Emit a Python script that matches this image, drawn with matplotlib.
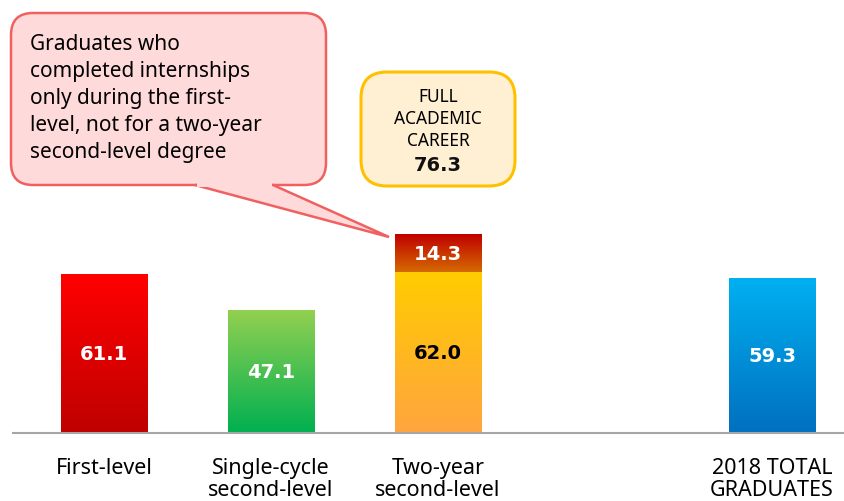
import numpy as np
import matplotlib
matplotlib.use('Agg')
import matplotlib.pyplot as plt
from matplotlib.colors import LinearSegmentedColormap
from matplotlib.patches import FancyBboxPatch, Polygon

plt.rcParams['font.family'] = ['Noto Sans', 'DejaVu Sans']

# data
categories = ['First-level', 'Single-cycle\nsecond-level', 'Two-year\nsecond-level', '2018 TOTAL\nGRADUATES']
positions = [0, 1, 2, 4]
base_values = [61.1, 47.1, 62.0, 59.3]
extra_values = [0, 0, 14.3, 0]  # only the two-year bar has a stacked part
total_full_career = 76.3

# top / bottom colours of each bar gradient
base_grad = [('#ff0000', '#bf0000'), ('#92d050', '#00b050'),
             ('#ffcc00', '#ffa53f'), ('#00b0f0', '#0070c0')]
extra_grad = ('#c00000', '#d46a00')
label_colors = ['white', 'white', 'black', 'white']

W, H = 845, 502
fig = plt.figure(figsize=(W / 100, H / 100), dpi=100)
ax = fig.add_axes([13 / W, (H - 434) / H, 832 / W, 434 / H])
width = 0.515
num_font = dict(family='DejaVu Sans', fontsize=14, fontweight='bold')


def grad_bar(x, y0, y1, top, bottom):
    cmap = LinearSegmentedColormap.from_list('g', [bottom, top])
    img = np.linspace(0, 1, 100).reshape(-1, 1)
    ax.imshow(img, cmap=cmap, origin='lower', aspect='auto',
              extent=(x - width / 2, x + width / 2, y0, y1), zorder=2)


for x, v, e, g, lc in zip(positions, base_values, extra_values, base_grad, label_colors):
    grad_bar(x, 0, v, g[0], g[1])
    ax.text(x, v / 2, f'{v:.1f}', ha='center', va='center', color=lc, zorder=4, **num_font)
    if e:
        grad_bar(x, v, v + e, extra_grad[0], extra_grad[1])
        ax.text(x, v + e / 2, f'{e:.1f}', ha='center', va='center', color='white',
                zorder=4, **num_font)

ax.set_xlim(-0.545, 4.437)
ax.set_ylim(0, 167)
ax.set_xticks(positions)
ax.set_xticklabels(categories, fontsize=15.5, linespacing=1.1)
ax.tick_params(axis='x', length=0, pad=17)
ax.set_yticks([])
for s in ['top', 'right', 'left']:
    ax.spines[s].set_visible(False)
ax.spines['bottom'].set_color('#a6a6a6')
ax.spines['bottom'].set_linewidth(1.5)

# overlay in pixel coordinates for the callouts
ov = fig.add_axes([0, 0, 1, 1])
ov.set_xlim(0, W)
ov.set_ylim(H, 0)
ov.axis('off')

pink, red_edge = '#ffdada', '#f06060'
ov.add_patch(FancyBboxPatch((11, 14), 315, 172, boxstyle='round,pad=0,rounding_size=22',
                            facecolor=pink, edgecolor=red_edge, linewidth=1.8, zorder=1))
ov.add_patch(Polygon([(195, 186), (389, 238), (273, 186)], closed=True,
                     facecolor=pink, edgecolor=red_edge, linewidth=1.8, zorder=2))
ov.add_patch(Polygon([(197, 184), (272, 184), (272, 188), (197, 188)], closed=True,
                     facecolor=pink, edgecolor='none', zorder=3))
ov.text(30, 34, 'Graduates who\ncompleted internships\nonly during the first-\nlevel, not for a two-year\nsecond-level degree',
        ha='left', va='top', fontsize=15, linespacing=1.38, zorder=4)

ov.add_patch(FancyBboxPatch((361, 73), 154, 114, boxstyle='round,pad=0,rounding_size=26',
                            facecolor='#fff0d4', edgecolor='#ffc000', linewidth=2.2, zorder=1))
ov.text(438, 88, 'FULL\nACADEMIC\nCAREER', ha='center', va='top', fontsize=12.5,
        linespacing=1.3, zorder=4)
ov.text(438, 166, f'{total_full_career:.1f}', ha='center', va='center', color='#111111',
        zorder=4, **num_font)

fig.savefig('out.png', dpi=100)
